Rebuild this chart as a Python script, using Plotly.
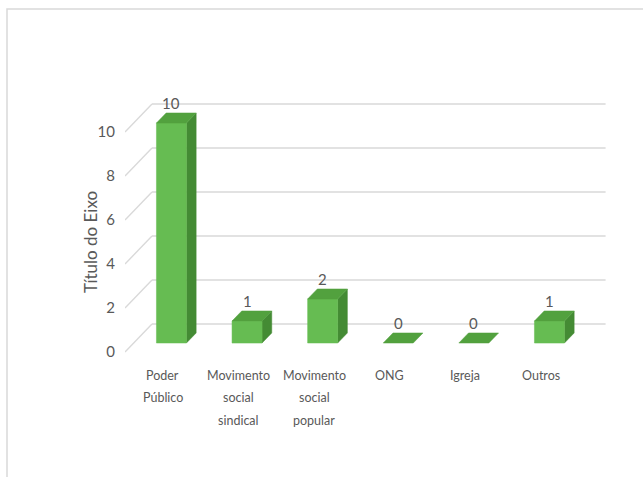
import plotly.graph_objects as go

# --- data -------------------------------------------------------------
categories = ["Poder<br>Público", "Movimento<br>social<br>sindical",
              "Movimento<br>social<br>popular", "ONG", "Igreja", "Outros"]
values = [10, 1, 2, 0, 0, 1]
y_ticks = [0, 2, 4, 6, 8, 10]
axis_title = "Título do Eixo"

# --- figure geometry ---------------------------------------------------
W, H = 643, 477
L, R, T, B = 125, 20, 60, 115
plot_w, plot_h = W - L - R, H - T - B
px_per_cat = 75.6
px_per_unit = 22.0
x_range = [-0.5, -0.5 + plot_w / px_per_cat]
y_range = [-10 / px_per_unit, (plot_h - 10) / px_per_unit]

# oblique depth vector (full depth of the box) in data units
DEPTH_X = 27 / px_per_cat
DEPTH_Y = 28 / px_per_unit
BAR_D0, BAR_D1 = 0.32, 0.68      # bar front / back depth fractions
BAR_W = 30 / px_per_cat

FRONT = "#66BC52"
TOP = "#52A13E"
SIDE = "#448B34"
GRID = "#D9D9D9"
TEXT = "#595959"
FONT = "Lato, Open Sans, Arial"


def to_paper_x(px):
    return (px - L) / plot_w


def to_paper_y(py):
    return (H - B - py) / plot_h


fig = go.Figure()
shapes = []

# back wall gridlines and left wall diagonals
n = len(values)
for v in y_ticks:
    shapes.append(dict(type="line", xref="x", yref="y", layer="below",
                       x0=-0.5, y0=v, x1=-0.5 + DEPTH_X, y1=v + DEPTH_Y,
                       line=dict(color=GRID, width=1.4)))
    shapes.append(dict(type="line", xref="x", yref="y", layer="below",
                       x0=-0.5 + DEPTH_X, y0=v + DEPTH_Y,
                       x1=n - 0.5 + DEPTH_X, y1=v + DEPTH_Y,
                       line=dict(color=GRID, width=1.4)))

# outer chart border
shapes.append(dict(type="rect", xref="paper", yref="paper", layer="below",
                   x0=to_paper_x(7), y0=to_paper_y(500),
                   x1=to_paper_x(700), y1=to_paper_y(9),
                   line=dict(color=GRID, width=1.5), fillcolor="rgba(0,0,0,0)"))


def poly(xs, ys, color):
    fig.add_trace(go.Scatter(x=xs + [xs[0]], y=ys + [ys[0]], mode="lines",
                             fill="toself", fillcolor=color,
                             line=dict(color=color, width=0.5),
                             hoverinfo="skip", showlegend=False))


# 3D columns: front face, top face, right side face
for i, v in enumerate(values):
    fx0 = i - BAR_W / 2 + BAR_D0 * DEPTH_X
    fx1 = i + BAR_W / 2 + BAR_D0 * DEPTH_X
    bx0 = i - BAR_W / 2 + BAR_D1 * DEPTH_X
    bx1 = i + BAR_W / 2 + BAR_D1 * DEPTH_X
    fy = BAR_D0 * DEPTH_Y
    by = BAR_D1 * DEPTH_Y
    if v > 0:
        poly([fx1, bx1, bx1, fx1], [fy, by, v + by, v + fy], SIDE)
        poly([fx0, fx1, fx1, fx0], [fy, fy, v + fy, v + fy], FRONT)
    poly([fx0, fx1, bx1, bx0], [v + fy, v + fy, v + by, v + by], TOP)

annotations = []
# data labels
for i, v in enumerate(values):
    annotations.append(dict(x=i + BAR_D0 * DEPTH_X, y=v + BAR_D1 * DEPTH_Y,
                            xref="x", yref="y", text=str(v), showarrow=False,
                            yanchor="middle", yshift=10,
                            font=dict(family=FONT, size=15, color=TEXT)))

# category labels (wider line spacing, one annotation per line)
for i, lab in enumerate(categories):
    for k, line in enumerate(lab.split("<br>")):
        annotations.append(dict(x=i, y=0, xref="x", yref="y", text=line,
                                showarrow=False, yanchor="middle",
                                yshift=-23 - 22.5 * k,
                                font=dict(family=FONT, size=12.5, color=TEXT)))

# axis title
annotations.append(dict(x=to_paper_x(90), y=to_paper_y(242), xref="paper",
                        yref="paper", text=axis_title, textangle=-90,
                        showarrow=False, xanchor="center", yanchor="middle",
                        font=dict(family=FONT, size=17, color=TEXT)))

fig.update_layout(
    width=W, height=H,
    margin=dict(l=L, r=R, t=T, b=B),
    paper_bgcolor="white", plot_bgcolor="white",
    shapes=shapes, annotations=annotations,
    xaxis=dict(range=x_range, showgrid=False, zeroline=False,
               showticklabels=False, showline=False, fixedrange=True),
    yaxis=dict(range=y_range, showgrid=False, zeroline=False, showline=False,
               tickmode="array", tickvals=y_ticks,
               ticktext=[str(t) for t in y_ticks], ticks="",
               ticklabelstandoff=9,
               tickfont=dict(family=FONT, size=15, color=TEXT),
               fixedrange=True),
    showlegend=False,
)

fig.write_html("out.html")
